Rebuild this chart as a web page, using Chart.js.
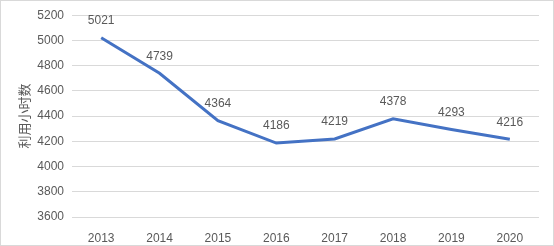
<!DOCTYPE html>
<html>
<head>
<meta charset="utf-8">
<script src="https://cdn.jsdelivr.net/npm/chart.js@4/dist/chart.umd.min.js"></script>
<style>
	body { margin: 0; background: #fff; }
	#wrap { position: relative; width: 554px; height: 246px; }
</style>
</head>
<body>
<div id="wrap"><canvas id="chart"></canvas></div>
<script>
// Data
var years = ['2013', '2014', '2015', '2016', '2017', '2018', '2019', '2020'];
var hours = [5021, 4739, 4364, 4186, 4219, 4378, 4293, 4216];
var yMin = 3600, yMax = 5200, yStep = 200;

// Draw value labels above each point, and the outer frame
var labelPlugin = {
	id: 'labels',
	afterDatasetsDraw: function(chart) {
		var ctx = chart.ctx;
		var meta = chart.getDatasetMeta(0);
		ctx.save();
		ctx.font = '12px "Liberation Sans", Arial, sans-serif';
		ctx.fillStyle = '#595959';
		ctx.textAlign = 'center';
		ctx.textBaseline = 'middle';
		meta.data.forEach(function(pt, i) {
			ctx.fillText(hours[i], pt.x, pt.y - 17);
		});
		ctx.strokeStyle = '#d9d9d9';
		ctx.lineWidth = 1;
		ctx.strokeRect(0.5, 0.5, chart.width - 1, chart.height - 1);
		ctx.restore();
	}
};

new Chart(document.getElementById('chart'), {
	type: 'line',
	data: {
		labels: years,
		datasets: [{
			data: hours,
			borderColor: '#4472C4',
			borderWidth: 3,
			pointRadius: 0,
			tension: 0,
			fill: false
		}]
	},
	options: {
		responsive: true,
		maintainAspectRatio: false,
		animation: false,
		layout: { padding: { left: 0, right: 15, top: 15, bottom: 0 } },
		plugins: {
			legend: { display: false },
			tooltip: { enabled: false }
		},
		scales: {
			x: {
				offset: true,
				grid: { display: false },
				border: { display: false },
				ticks: {
					color: '#595959',
					padding: 6,
					font: { family: '"Liberation Sans", Arial, sans-serif', size: 12 }
				},
				afterFit: function(s) { s.height = 29; }
			},
			y: {
				min: yMin,
				max: yMax,
				border: { display: false },
				grid: { color: '#d9d9d9', drawTicks: false },
				ticks: {
					stepSize: yStep,
					color: '#595959',
					padding: 8,
					font: { family: '"Liberation Sans", Arial, sans-serif', size: 12 },
					callback: function(v) { return String(v); }
				},
				title: {
					display: true,
					text: '利用小时数',
					color: '#595959',
					padding: { top: 16, bottom: 0 },
					font: { family: '"Noto Sans CJK SC", sans-serif', size: 13 }
				},
				afterFit: function(s) { s.width = 72; }
			}
		}
	},
	plugins: [labelPlugin]
});
</script>
</body>
</html>
